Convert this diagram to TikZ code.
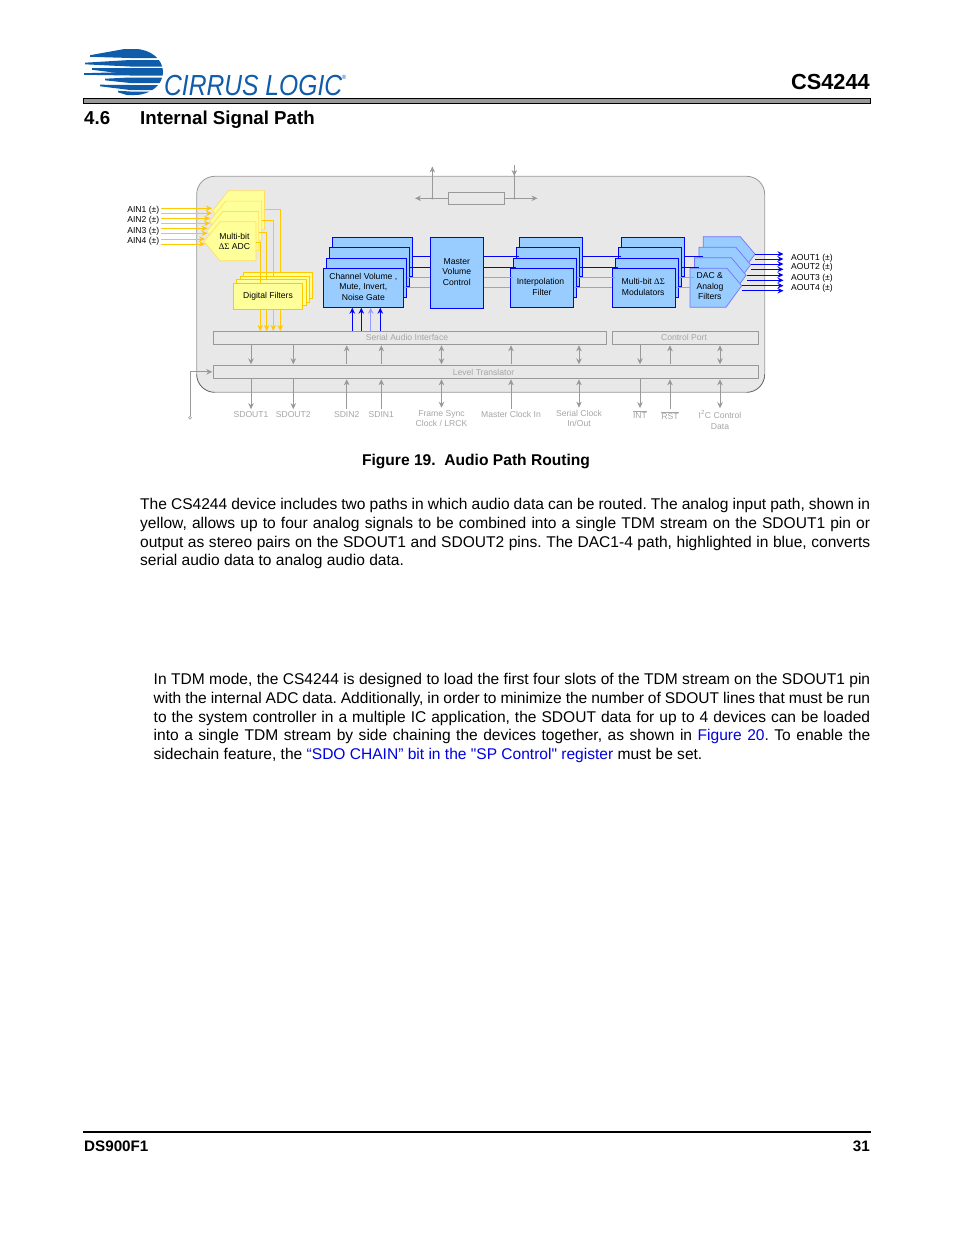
\documentclass[tikz,border=0pt]{standalone}
\usepackage{fontspec}
\setmainfont{Liberation Sans}[Ligatures=TeXOff]
\newfontfamily\symfont{Liberation Serif}
\usepackage{xcolor}
\usetikzlibrary{arrows.meta}
\definecolor{logoblue}{HTML}{0F5CAB}
\definecolor{chipgray}{HTML}{E8E8E8}
\definecolor{linegray}{HTML}{999999}
\definecolor{textgray}{HTML}{A6A6A6}
\definecolor{adcfill}{HTML}{FFFF99}
\definecolor{adcline}{HTML}{FFC800}
\definecolor{boxblue}{HTML}{99CCFF}
\definecolor{paleblue}{HTML}{9999FF}
\definecolor{linkblue}{HTML}{0000E0}

\begin{document}
\begin{tikzpicture}[
    x=1pt, y=-1pt,
    >={Stealth[length=6pt,width=5.5pt]},
    small/.style={font=\fontsize{8.6}{10.4}\selectfont, align=center, inner sep=0pt},
    chipbox/.style={draw=linegray, fill=chipgray, line width=0.8pt, rounded corners=18pt},
    bus/.style={small, draw=linegray, fill=chipgray, line width=0.8pt, text=textgray, outer sep=1pt},
    pin/.style={small, text=textgray, outer sep=2.5pt},
    bluebox/.style={small, draw=blue, fill=boxblue, line width=0.8pt, text depth=2pt},
    yellowbox/.style={small, draw=adcline, fill=adcfill, line width=0.8pt},
    adcshape/.style={draw=adcline!60, fill=adcfill, line width=0.7pt},
    dacshape/.style={draw=blue!55, fill=boxblue, line width=0.7pt},
    graywire/.style={draw=linegray, line width=0.8pt},
    yellowwire/.style={draw=adcline, line width=1pt},
    bluewire/.style={draw=blue, line width=1pt},
    palewire/.style={draw=paleblue, line width=1pt},
    body/.style={font=\fontsize{15.55}{18.6}\selectfont\frenchspacing, align=justify, inner sep=0pt, anchor=north west},
    heading/.style={font=\fontsize{18.7}{22}\selectfont\bfseries, inner sep=0pt, anchor=base west}
]
    \path[fill=white, use as bounding box] (0,0) rectangle (954,1235);

    % Logo
    \begin{scope}
        \clip (80,49) -- (135,49) arc (-90:90:28 and 23) -- (80,95) -- cycle;
        \foreach \xl/\yl/\yt/\yb in {90/56/48/58, 85/63.5/60/66.5, 92/69/68/74.5, 84/74/72/75.5,
                105/79.5/77.5/83, 100/85.5/85/90, 118/91.5/91.5/96} {
            \fill[logoblue] (\xl,\yl-0.8) -- (130,\yt) -- (170,\yt) -- (170,\yb) -- (130,\yb) -- (\xl,\yl+0.8) -- cycle;
        }
    \end{scope}
    \node[font=\fontsize{29}{30}\selectfont\itshape, text=logoblue, xscale=0.85, inner sep=0pt, anchor=west] (logo) at (164,85.5) {CIRRUS LOGIC};
    \node[font=\fontsize{6}{6}\selectfont, text=logoblue, inner sep=0pt] (logoreg) at (344,77) {®};

    % Page header
    \node[font=\fontsize{21.8}{24}\selectfont\bfseries, inner sep=0pt, anchor=east] (part) at (870,82) {CS4244};
    \node[draw=black, fill=gray!80, line width=0.8pt, minimum width=787, minimum height=4.5, inner sep=0pt] (headrule) at (477,100.8) {};
    \node[heading] (secnum) at (84,124.5) {4.6};
    \node[heading] (sectitle) at (140,124.5) {Internal Signal Path};

    % Chip outline
    \node[chipbox, minimum width=568, minimum height=216] (chip) at (480.7,284.3) {};
    \draw[black!70, line width=0.4pt, rounded corners=18pt] (196.7,374.3) -- (196.7,392.3) -- (214.7,392.3);
    \draw[black!70, line width=0.4pt, rounded corners=18pt] (746.7,392.3) -- (764.7,392.3) -- (764.7,374.3);

    % Top register box
    \node[draw=linegray, line width=0.8pt, minimum width=56, minimum height=12, inner sep=0pt] (reg) at (476.3,198.3) {};
    \coordinate (regL) at (415,198.3);
    \coordinate (regR) at (537.5,198.3);
    \coordinate (tapL) at (432.3,198.3);
    \coordinate (tapR) at (514.3,198.3);
    \coordinate (pwrL) at (432.3,166.5);
    \coordinate (pwrR) at (514.3,165);
    \coordinate (tipR) at (514.3,176);
    \draw[graywire, ->] (reg.west) -- (regL);
    \draw[graywire, ->] (reg.east) -- (regR);
    \draw[graywire, ->] (tapL) -- (pwrL);
    \draw[graywire] (tapR) -- (pwrR);
    \draw[graywire, ->] (pwrR) -- (tipR);
    \fill[linegray] (tapL) circle (1.2) (tapR) circle (1.2);

    % ADC stack
    \foreach \i/\dx/\dy in {D/8.5/-31, C/5.7/-20.6, B/2.8/-10.3, A/0/0} {
        \draw[adcshape] (204+\dx,241.7+\dy) -- (220+\dx,221.7+\dy) -- (256+\dx,221.7+\dy) -- (256+\dx,260.7+\dy) -- (220+\dx,260.7+\dy) -- cycle;
    }
    \node[small, text=black] (adc) at (234.5,241.3) {Multi-bit\\{\symfont ΔΣ} ADC};

    % Analog inputs
    \foreach \n/\y/\ya/\yb/\xt in {1/210/208.3/213.3/212, 2/220.7/218.3/223.3/210, 3/231/228.3/233.3/207.5, 4/241/239/244/205} {
        \node[small, anchor=east] (ain\n) at (159.5,\y) {AIN\n{} (±)};
        \coordinate (ain\n a) at (161,\ya);
        \coordinate (ain\n b) at (161,\yb);
        \coordinate (adc\n a) at (\xt,\ya);
        \coordinate (adc\n b) at (\xt,\yb);
        \draw[yellowwire, ->] (ain\n a) -- (adc\n a);
        \draw[yellowwire, ->] (ain\n b) -- (adc\n b);
    }

    % Digital filters
    \foreach \i/\dx/\dy in {D/10/-11, C/6.7/-7.3, B/3.3/-3.7} {
        \node[yellowbox, minimum width=69.4, minimum height=26] (filt\i) at (268+\dx,296.3+\dy) {};
    }
    \node[yellowbox, minimum width=69.4, minimum height=26] (filtA) at (268,296.3) {Digital Filters};

    % ADC to filter wiring
    \foreach \x/\ys/\xs/\f in {280.3/209.3/264.5/D, 273.3/220.7/261.7/C, 266.7/232.3/258.8/B, 260.3/242.3/256/A} {
        \coordinate (adcout) at (\xs,\ys);
        \coordinate (filtin) at (\x,331);
        \draw[yellowwire] (adcout) -- (adcout -| filtin) -- (filtin |- filt\f.north);
        \draw[yellowwire, ->] (filtin |- filtA.south) -- (filtin);
    }

    % Blue signal path
    \foreach \name/\cx/\w in {vol/363.3/80, interp/542/62.6, mod/644/63.4} {
        \foreach \i/\dx/\dy in {D/8.9/-31, C/5.9/-20.6, B/3/-10.3} {
            \node[bluebox, minimum width=\w, minimum height=39] (\name\i) at (\cx+\dx,287.8+\dy) {};
        }
    }
    \node[bluebox, minimum width=80, minimum height=39] (volA) at (363.3,287.8) {Channel Volume ,\\[0.4pt]Mute, Invert,\\[0.4pt]Noise Gate};
    \node[bluebox, minimum width=62.6, minimum height=39] (interpA) at (542,287.8) {Interpolation\hspace*{3pt}\\Filter};
    \node[bluebox, minimum width=63.4, minimum height=39] (modA) at (644,287.8) {Multi-bit {\symfont ΔΣ}\hspace*{1.5pt}\\Modulators\hspace*{1.5pt}};
    \node[bluebox, minimum width=53, minimum height=70.7] (master) at (456.8,272.7) {Master\\Volume\\Control};

    % DAC stack
    \foreach \i/\dx/\dy in {D/13.3/-31.6, C/8.9/-21, B/4.4/-10.5, A/0/0} {
        \draw[dacshape] (690+\dx,268.3+\dy) -- (727+\dx,268.3+\dy) -- (741.7+\dx,285.7+\dy) -- (726+\dx,307.3+\dy) -- (690+\dx,307.3+\dy) -- cycle;
    }
    \node[small, align=left, anchor=west] (dac) at (696.5,286.3) {DAC \&\\Analog\\\,Filters};
    \coordinate (dacD) at (703.3,256.8);
    \coordinate (dacC) at (698.9,267.2);
    \coordinate (dacB) at (694.4,277.5);
    \coordinate (dacA) at (690,287.8);

    % Wires between stages
    \foreach \i/\sty in {D/bluewire, C/bluewire, B/palewire, A/palewire} {
        \draw[\sty] (vol\i.east) -- (vol\i.east -| master.west);
        \draw[\sty] (vol\i.east -| master.east) -- (interp\i.west);
        \draw[\sty] (interp\i.east) -- (mod\i.west);
        \draw[\sty] (mod\i.east) -- (dac\i);
    }
    \foreach \x/\sty in {352.3/bluewire, 361.3/bluewire, 370.7/palewire, 380.3/bluewire} {
        \coordinate (saiout) at (\x,330.5);
        \draw[\sty, ->] (saiout) -- (saiout |- volA.south);
    }

    % Analog outputs
    \foreach \n/\y/\ya/\yb/\xs in {1/258/254/259/755, 2/267.7/264/269.3/750.5, 3/278/275/280.3/746.5, 4/288/285.7/290.7/741.7} {
        \node[small, anchor=west] (aout\n) at (791,\y) {AOUT\n{} (±)};
        \coordinate (dac\n a) at (\xs,\ya);
        \coordinate (dac\n b) at (\xs,\yb);
        \coordinate (aout\n a) at (783.5,\ya);
        \coordinate (aout\n b) at (783.5,\yb);
        \draw[bluewire, ->] (dac\n a) -- (aout\n a);
        \draw[bluewire, ->] (dac\n b) -- (aout\n b);
    }

    % Interface bars
    \node[bus, minimum width=393.4, minimum height=13] (sai) at (410,337.8) {Serial Audio Interface\hspace*{6pt}};
    \node[bus, minimum width=146.4, minimum height=13] (ctrl) at (685.5,337.8) {Control Port\hspace*{3pt}};
    \node[bus, minimum width=545.4, minimum height=13] (level) at (486,371.8) {};
    \node[small, text=textgray] (leveltext) at (483.5,372.5) {Level Translator};

    % Pins
    \node[pin] (sdoutA) at (251,414.7) {SDOUT1};
    \node[pin] (sdoutB) at (293.3,414.7) {SDOUT2};
    \node[pin] (sdinB) at (346.7,414.7) {SDIN2};
    \node[pin] (sdinA) at (381.3,414.7) {SDIN1};
    \node[pin] (lrck) at (441.5,418.5) {Frame Sync\\Clock / LRCK};
    \node[pin] (mclk) at (511,414.7) {Master Clock In};
    \node[pin] (sclk) at (579,418.5) {Serial Clock\\In/Out};
    \node[pin] (intpin) at (640,414.5) {$\overline{\mbox{INT}}$};
    \node[pin] (rstpin) at (670,415.5) {$\overline{\mbox{RST}}$};
    \node[pin] (i2c) at (720,420) {I\textsuperscript{2}C Control\\Data};

    % Gray wires
    \foreach \n/\bar/\tip in {sdoutA/sai/->, sdoutB/sai/->, sdinB/sai/<-, sdinA/sai/<-, lrck/sai/<->, mclk/sai/<-, sclk/sai/<->, intpin/ctrl/->, rstpin/ctrl/<-, i2c/ctrl/<->} {
        \draw[graywire, \tip] (\bar.south -| \n) -- (level.north -| \n);
        \draw[graywire, \tip] (level.south -| \n) -- (\n.north);
    }

    % Reset pin
    \node[draw=linegray, circle, minimum size=3pt, inner sep=0pt, line width=0.5pt] (vlpin) at (190,417.7) {};
    \draw[graywire, ->] (vlpin.north) |- (level.west);

    % Caption and text
    \node[font=\fontsize{15.6}{18}\selectfont\bfseries, inner sep=0pt] (caption) at (476,461.5) {Figure 19.~~Audio Path Routing};
    \node[body, text width=730pt] (paraA) at (140,498.5) {The CS4244 device includes two paths in which audio data can be routed. The analog input path, shown in\linebreak
        yellow, allows up to four analog signals to be combined into a single TDM stream on the SDOUT1 pin or\linebreak
        output as stereo pairs on the SDOUT1 and SDOUT2 pins. The DAC1-4 path, highlighted in blue, converts\linebreak
        serial audio data to analog audio data.};
    \node[body, text width=716.5pt] (paraB) at (153.5,673.5) {In TDM mode, the CS4244 is designed to load the first four slots of the TDM stream on the SDOUT1 pin\linebreak
        with the internal ADC data. Additionally, in order to minimize the number of SDOUT lines that must be run\linebreak
        to the system controller in a multiple IC application, the SDOUT data for up to 4 devices can be loaded\linebreak
        into a single TDM stream by side chaining the devices together, as shown in \textcolor{linkblue}{Figure 20}. To enable the\linebreak
        sidechain feature, the \textcolor{linkblue}{“SDO CHAIN” bit in the "SP Control" register} must be set.};

    % Page footer
    \node[draw=black, fill=black, minimum width=787, minimum height=0.6, inner sep=0pt, line width=0.5pt] (footrule) at (477,1132) {};
    \node[font=\fontsize{15.2}{18}\selectfont\bfseries, inner sep=0pt, anchor=west] (docnum) at (84,1146.5) {DS900F1};
    \node[font=\fontsize{15.2}{18}\selectfont\bfseries, inner sep=0pt, anchor=east] (pagenum) at (870,1146.5) {31};
\end{tikzpicture}
\end{document}
